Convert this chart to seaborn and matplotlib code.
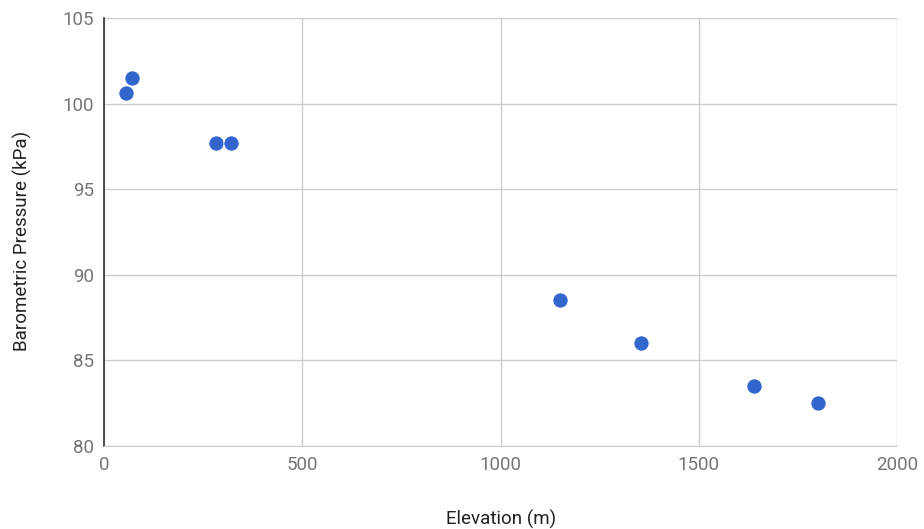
import matplotlib
matplotlib.use("Agg")
import matplotlib.pyplot as plt
import seaborn as sns
import pandas as pd

elevation = [55, 70, 283, 320, 1150, 1354, 1639, 1801]
pressure = [100.6, 101.5, 97.7, 97.7, 88.5, 86.0, 83.5, 82.5]
x_ticks = [0, 500, 1000, 1500, 2000]
y_ticks = [80, 85, 90, 95, 100, 105]

df = pd.DataFrame({"Elevation (m)": elevation, "Barometric Pressure (kPa)": pressure})

sns.set_style("white")
plt.rcParams["font.family"] = ["Roboto", "DejaVu Sans"]

fig = plt.figure(figsize=(9.24, 5.29), dpi=100)
ax = fig.add_axes([104/924, 1 - 446/529, (897-104)/924, (446-18)/529])

sns.scatterplot(data=df, x="Elevation (m)", y="Barometric Pressure (kPa)", ax=ax,
                color="#3366cc", s=120, edgecolor="white", linewidth=0.6, zorder=3)

ax.set_xlim(0, 2000)
ax.set_ylim(80, 105)
ax.set_xticks(x_ticks)
ax.set_yticks(y_ticks)
ax.grid(True, color="#cccccc", linewidth=1)
for s in ["top", "right"]:
    ax.spines[s].set_visible(False)
ax.spines["bottom"].set_color("#cccccc")
ax.spines["left"].set_color("#333333")
ax.spines["left"].set_linewidth(1.2)
ax.tick_params(axis="both", length=0, labelsize=13.5, labelcolor="#757575", pad=7)
ax.set_xlabel("Elevation (m)", fontsize=13.5, color="#222222")
ax.set_ylabel("Barometric Pressure (kPa)", fontsize=13.5, color="#222222")
ax.xaxis.set_label_coords((501 - 104) / 793, (446 - 519) / 428)
ax.xaxis.label.set_va("center")
ax.yaxis.set_label_coords((22 - 104) / 793, (446 - 241) / 428)
ax.yaxis.label.set_va("center")

fig.savefig("out.png", dpi=100, facecolor="white")
